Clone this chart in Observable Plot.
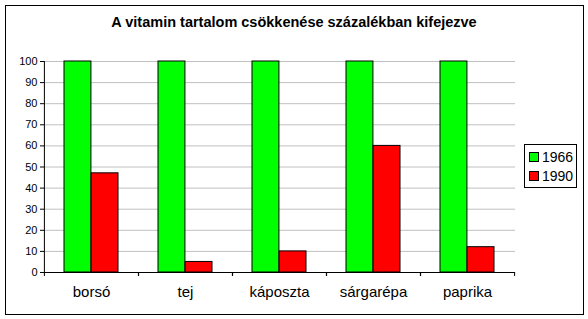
<!DOCTYPE html>
<html>
<head>
<meta charset="utf-8">
<script src="https://cdn.jsdelivr.net/npm/d3@7"></script>
<script src="https://cdn.jsdelivr.net/npm/@observablehq/plot@0.6"></script>
<style>
  body { margin: 0; background: #fff; font-family: "Liberation Sans", Arial, sans-serif; }
  #wrap { position: relative; width: 588px; height: 319px; overflow: hidden; background: #fff; }
  #frame { position: absolute; left: 5px; top: 5px; width: 579px; height: 310px; border: 1.5px solid #000; box-sizing: border-box; }
  #title { position: absolute; left: 0; width: 588px; top: 14px; text-align: center; font-weight: bold; font-size: 14.5px; color: #000; }
  #legend { position: absolute; left: 524px; top: 144px; width: 53px; height: 44px; border: 1px solid #000; box-sizing: border-box; background: #fff; font-size: 14px; }
  .li { position: absolute; left: 4px; height: 16px; line-height: 16px; }
  .sw { display: inline-block; width: 8px; height: 8px; border: 1px solid #000; margin-right: 3px; vertical-align: 0px; }
  #chart { position: absolute; left: 0; top: 0; }
</style>
</head>
<body>
<div id="wrap">
  <div id="frame"></div>
  <div id="chart"></div>
  <div id="title"></div>
  <div id="legend"></div>
</div>
<script>
const title = "A vitamin tartalom csökkenése százalékban kifejezve";
const categories = ["borsó", "tej", "káposzta", "sárgarépa", "paprika"];
const series = ["1966", "1990"];
const values1966 = [100, 100, 100, 100, 100];
const values1990 = [47, 5, 10, 60, 12];
const colors = ["#00ff00", "#ff0000"];
const yTicks = [0, 10, 20, 30, 40, 50, 60, 70, 80, 90, 100];

const data1966 = categories.map((c, i) => ({cat: c, v: values1966[i]}));
const data1990 = categories.map((c, i) => ({cat: c, v: values1990[i]}));

const W = 588, H = 319;
const mL = 44, mR = 73, mT = 61, mB = 47;
const pInner = 0.425, pOuter = 0.2125;
const step = (W - mL - mR) / categories.length;
const bw = step * (1 - pInner);
const half = bw / 2;

const chart = Plot.plot({
  width: W, height: H,
  marginLeft: mL, marginRight: mR, marginTop: mT, marginBottom: mB,
  style: {fontFamily: "Liberation Sans, Arial, sans-serif", background: "transparent"},
  x: {domain: categories, paddingInner: pInner, paddingOuter: pOuter, label: null},
  y: {domain: [0, 100], label: null},
  marks: [
    Plot.gridY(yTicks.filter(t => t > 0), {stroke: "#c0c0c0", strokeOpacity: 1}),
    Plot.barY(data1966, {x: "cat", y: "v", fill: colors[0], stroke: "#000", strokeWidth: 1, insetRight: half}),
    Plot.barY(data1990, {x: "cat", y: "v", fill: colors[1], stroke: "#000", strokeWidth: 1, insetLeft: half}),
    Plot.ruleY([0], {stroke: "#000"}),
    Plot.ruleX([categories[0]], {stroke: "#000", dx: -step / 2}),
    Plot.axisY({ticks: yTicks, tickSize: 4, tickPadding: 3, fontSize: 11, stroke: "#000", label: null}),
    Plot.axisX({tickSize: 0, tickPadding: 14, fontSize: 15, label: null}),
    Plot.axisX({tickSize: 4, tickFormat: () => "", dx: -step / 2, label: null, stroke: "#000"}),
    Plot.axisX({tickSize: 4, tickFormat: () => "", dx: step / 2, label: null, stroke: "#000"})
  ]
});
document.getElementById("chart").appendChild(chart);
document.getElementById("title").textContent = title;

const leg = document.getElementById("legend");
series.forEach((s, i) => {
  const d = document.createElement("div");
  d.className = "li";
  d.style.top = (4 + i * 19) + "px";
  d.innerHTML = `<span class="sw" style="background:${colors[i]}"></span>${s}`;
  leg.appendChild(d);
});
</script>
</body>
</html>
